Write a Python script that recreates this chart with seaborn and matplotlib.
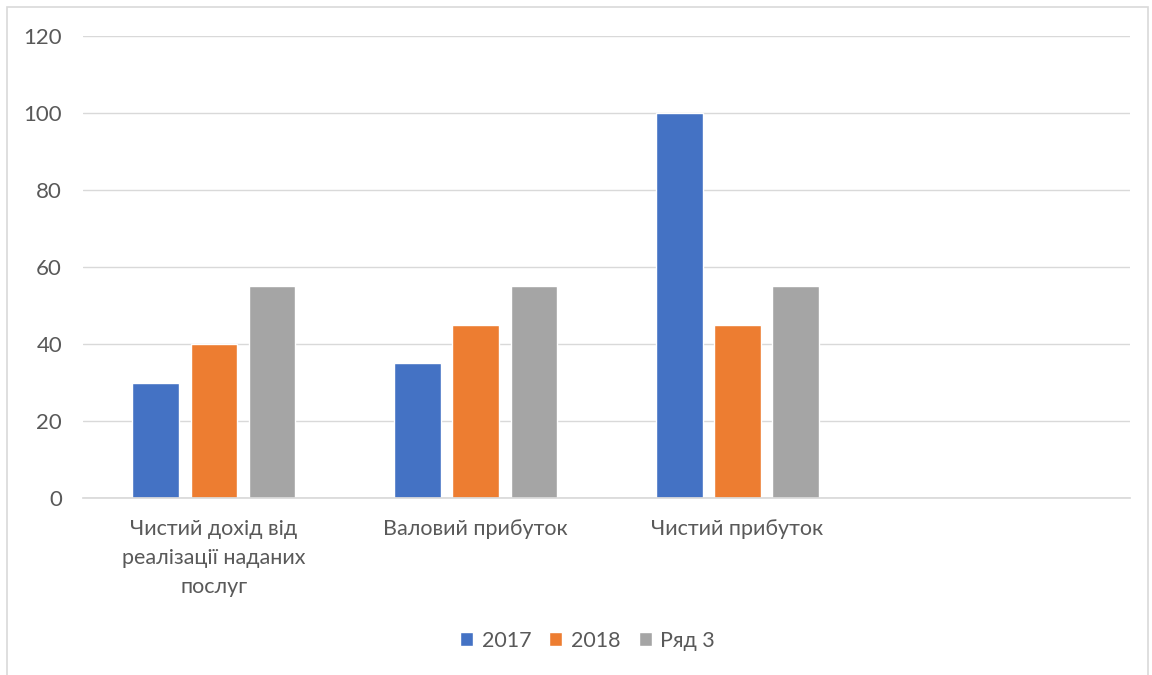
import numpy as np
import pandas as pd
import matplotlib
matplotlib.use("Agg")
import matplotlib.pyplot as plt
import seaborn as sns
from matplotlib.patches import Rectangle

categories = ["Чистий дохід від\nреалізації наданих\nпослуг", "Валовий прибуток", "Чистий прибуток", ""]
series_names = ["2017", "2018", "Ряд 3"]
values_2017 = [30, 35, 100, np.nan]
values_2018 = [40, 45, 45, np.nan]
values_row3 = [55, 55, 55, np.nan]
y_ticks = [0, 20, 40, 60, 80, 100, 120]
colors = ["#4472C4", "#ED7D31", "#A5A5A5"]

rows = []
for name, vals in zip(series_names, [values_2017, values_2018, values_row3]):
    for cat, v in zip(categories, vals):
        rows.append({"category": cat, "series": name, "value": v})
df = pd.DataFrame(rows)

sns.set_theme(style="white")
plt.rcParams["font.family"] = ["Lato", "DejaVu Sans"]
text_color = "#595959"

fig = plt.figure(figsize=(11.52, 6.75), dpi=100)
ax = fig.add_axes([0.072, 0.262, 0.909, 0.685])

sns.barplot(data=df, x="category", y="value", hue="series", order=categories,
            hue_order=series_names, palette=colors, width=0.667, gap=0.2,
            saturation=1, ax=ax, legend=True)

ax.set_ylim(0, 120)
ax.set_xlim(-0.5, len(categories) - 0.5)
ax.set_yticks(y_ticks)
ax.set_yticklabels([str(t) for t in y_ticks], color=text_color, fontsize=16)
ax.yaxis.grid(True, color="#D9D9D9", linewidth=1)
ax.set_axisbelow(True)
for s in ["top", "right", "left"]:
    ax.spines[s].set_visible(False)
ax.spines["bottom"].set_color("#D9D9D9")
ax.tick_params(axis="both", length=0)
ax.tick_params(axis="y", pad=15)
ax.tick_params(axis="x", pad=15)
ax.set_xticklabels(categories, color=text_color, fontsize=15.5, linespacing=1.55)
ax.set_xlabel("")
ax.set_ylabel("")

handles, labels = ax.get_legend_handles_labels()
ax.legend_.remove()
fig.legend(handles, labels, loc="center", bbox_to_anchor=(0.51, 0.051), ncol=3,
           frameon=False, fontsize=15.5, handlelength=0.6, handleheight=0.6,
           handletextpad=0.4, columnspacing=0.85, labelcolor=text_color)

# chart frame
fig.patches.append(Rectangle((7 / 1152, -0.01), 1141 / 1152, 1 - 7 / 675 + 0.01,
                             transform=fig.transFigure, fill=False,
                             edgecolor="#D9D9D9", linewidth=1.2))

fig.savefig("out.png", dpi=100, facecolor="white")
